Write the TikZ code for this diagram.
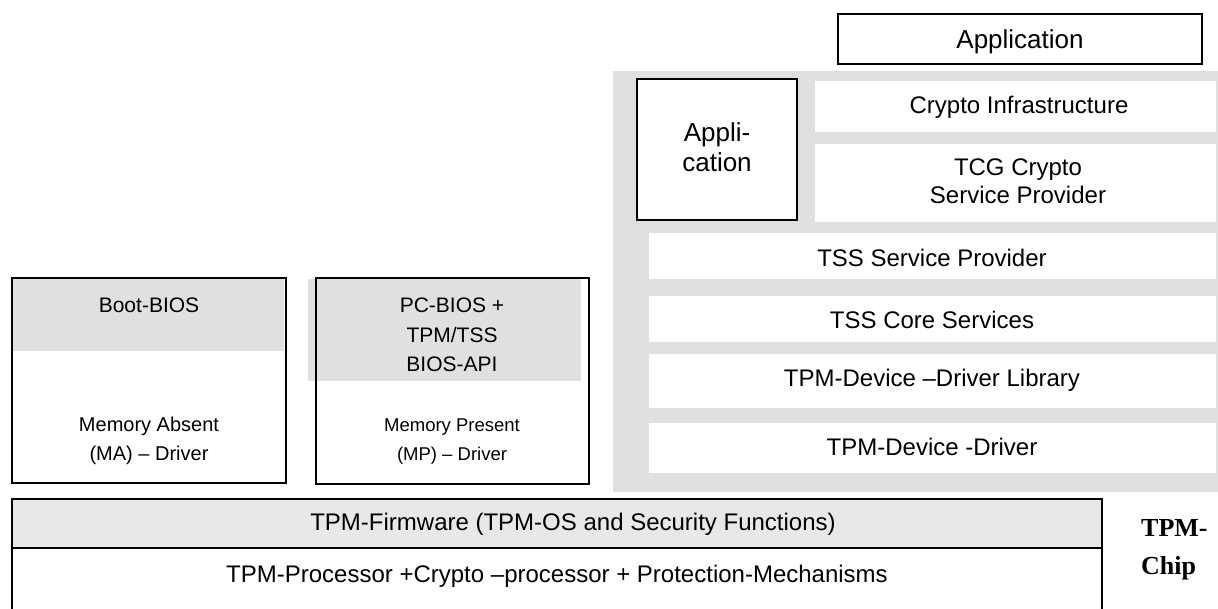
\documentclass[tikz,border=0pt]{standalone}
\usepackage{fontspec}
\setmainfont{Liberation Sans}
\newfontfamily\chipfont{Liberation Serif}

\definecolor{panelgray}{RGB}{224,224,224}
\definecolor{fwgray}{RGB}{232,232,232}

\tikzset{
  lbl/.style={anchor=base,inner sep=0pt,align=center,font=\fontsize{24}{28}\selectfont},
  frame/.style={draw=black,line width=2pt},
}

\begin{document}
\begin{tikzpicture}[x=1pt,y=-1pt]
\useasboundingbox (0,0) rectangle (1218,609);

% software stack
\fill[panelgray] (613,71) rectangle (1218,492);
\fill[white] (815,81) rectangle (1216,132);
\fill[white] (815,144) rectangle (1216,222);
\fill[white] (649,233) rectangle (1216,279);
\fill[white] (649,296) rectangle (1216,342);
\fill[white] (649,354) rectangle (1216,408);
\fill[white] (649,423) rectangle (1216,473);

\draw[frame,fill=white] (838,14) rectangle (1202,64);
\node[lbl,font=\fontsize{26}{30}\selectfont] (appTop) at (1020,49) {Application};

\draw[frame,fill=white] (637,79) rectangle (797,220);
\node[lbl,font=\fontsize{26}{30}\selectfont] (appSide) at (717,172) {Appli-\\cation};

\node[lbl] (cryptoInfra) at (1019,114) {Crypto Infrastructure};
\node[lbl] (tcgCsp) at (1018,204) {TCG Crypto\\Service Provider};
\node[lbl] (tssSp) at (932,267) {TSS Service Provider};
\node[lbl] (tssCore) at (932,329) {TSS Core Services};
\node[lbl] (tddl) at (932,387) {TPM-Device --Driver Library};
\node[lbl] (tdd) at (932,455) {TPM-Device -Driver};

% BIOS boxes
\fill[panelgray] (13,279) rectangle (284,351);
\draw[frame] (12,278) rectangle (286,483);
\node[lbl,font=\fontsize{21}{29.5}\selectfont] (bootBios) at (149,313) {Boot-BIOS};
\node[lbl,font=\fontsize{20}{29}\selectfont] (memAbsent) at (149,460) {Memory Absent\\(MA) -- Driver};

\fill[panelgray] (308,279) rectangle (581,381);
\draw[frame] (316,278) rectangle (589,484);
\node[lbl,font=\fontsize{21}{29.5}\selectfont] (pcBios) at (452,372) {PC-BIOS +\\TPM/TSS\\BIOS-API};
\node[lbl,font=\fontsize{18.5}{29}\selectfont] (memPresent) at (452,460) {Memory Present\\(MP) -- Driver};

% chip
\fill[fwgray] (12,499) rectangle (1102,548);
\draw[frame] (12,499) rectangle (1102,614);
\draw[frame] (12,548) -- (1102,548);
\node[lbl] (firmware) at (573,530) {TPM-Firmware (TPM-OS and Security Functions)};
\node[lbl] (processor) at (557,582) {TPM-Processor +Crypto --processor + Protection-Mechanisms};

\node[anchor=base west,inner sep=0pt,align=left,font=\chipfont\bfseries\fontsize{26}{38}\selectfont] (chipLbl) at (1141,574) {TPM-\\Chip};

\end{tikzpicture}
\end{document}
